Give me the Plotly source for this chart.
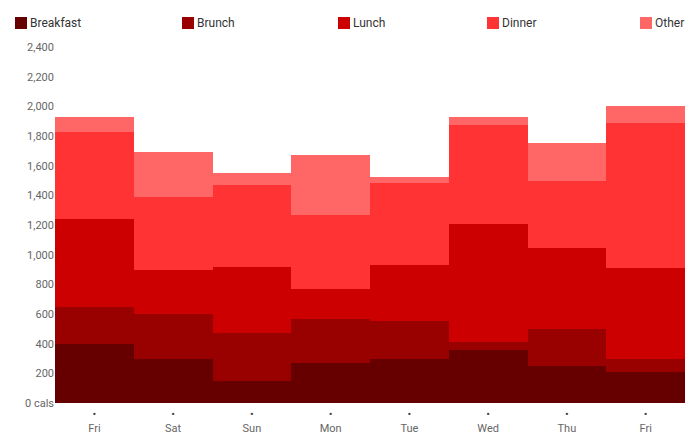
import plotly.graph_objects as go

days = ["Fri", "Sat", "Sun", "Mon", "Tue", "Wed", "Thu", "Fri"]
meals = ["Breakfast", "Brunch", "Lunch", "Dinner", "Other"]
breakfast = [400, 300, 150, 270, 300, 360, 250, 210]
brunch = [250, 300, 320, 295, 250, 50, 250, 90]
lunch = [590, 300, 450, 205, 380, 800, 545, 610]
dinner = [590, 490, 550, 500, 550, 665, 455, 980]
other = [100, 300, 80, 400, 45, 55, 250, 110]
colors = ["#660000", "#990000", "#CC0000", "#FF3333", "#FF6666"]
y_ticks = [0, 200, 400, 600, 800, 1000, 1200, 1400, 1600, 1800, 2000, 2200, 2400]

series = [breakfast, brunch, lunch, dinner, other]
xs = list(range(len(days)))

fig = go.Figure()
for name, vals, col in zip(meals, series, colors):
    fig.add_trace(go.Bar(x=xs, y=vals, name=name, marker=dict(color=col, line=dict(width=0)),
                         showlegend=False, hoverinfo="skip"))

ytext = ["0 cals" if v == 0 else f"{v:,}" for v in y_ticks]
xtext = [f"<span style='color:#444'>•</span><br>{d}" for d in days]

# manual legend (layout decoration)
leg_x = [15, 182, 338, 487, 640]
W, H = 700, 438
ml, mr, mt, mb = 55, 15, 47, 35
pw = W - ml - mr
ph = H - mt - mb
shapes = []
annotations = []
for lx, name, col in zip(leg_x, meals, colors):
    x0 = (lx - ml) / pw
    x1 = (lx + 12 - ml) / pw
    shapes.append(dict(type="rect", xref="paper", yref="paper", x0=x0, x1=x1,
                       y0=1 + (mt - 29) / ph, y1=1 + (mt - 17) / ph,
                       fillcolor=col, line=dict(width=0)))
    annotations.append(dict(xref="paper", yref="paper", x=(lx + 13 - ml) / pw,
                            y=1 + (mt - 23) / ph, text=name, showarrow=False,
                            xanchor="left", yanchor="middle",
                            font=dict(family="Roboto", size=12, color="#333")))

fig.update_layout(
    width=W, height=H, barmode="stack", bargap=0,
    margin=dict(l=ml, r=mr, t=mt, b=mb),
    plot_bgcolor="white", paper_bgcolor="white",
    font=dict(family="Roboto", size=11, color="#666"),
    shapes=shapes, annotations=annotations,
    xaxis=dict(range=[-0.5, len(days) - 0.5], tickvals=xs, ticktext=xtext,
               showgrid=False, zeroline=False, showline=False, ticks="",
               automargin=False, ticklabelstandoff=3),
    yaxis=dict(range=[0, 2400], tickvals=y_ticks, ticktext=ytext, showgrid=False,
               zeroline=False, showline=False, ticks="", automargin=False),
)
fig.write_html("out.html", config={"displayModeBar": False},
               post_script="document.body.style.margin='0';")
